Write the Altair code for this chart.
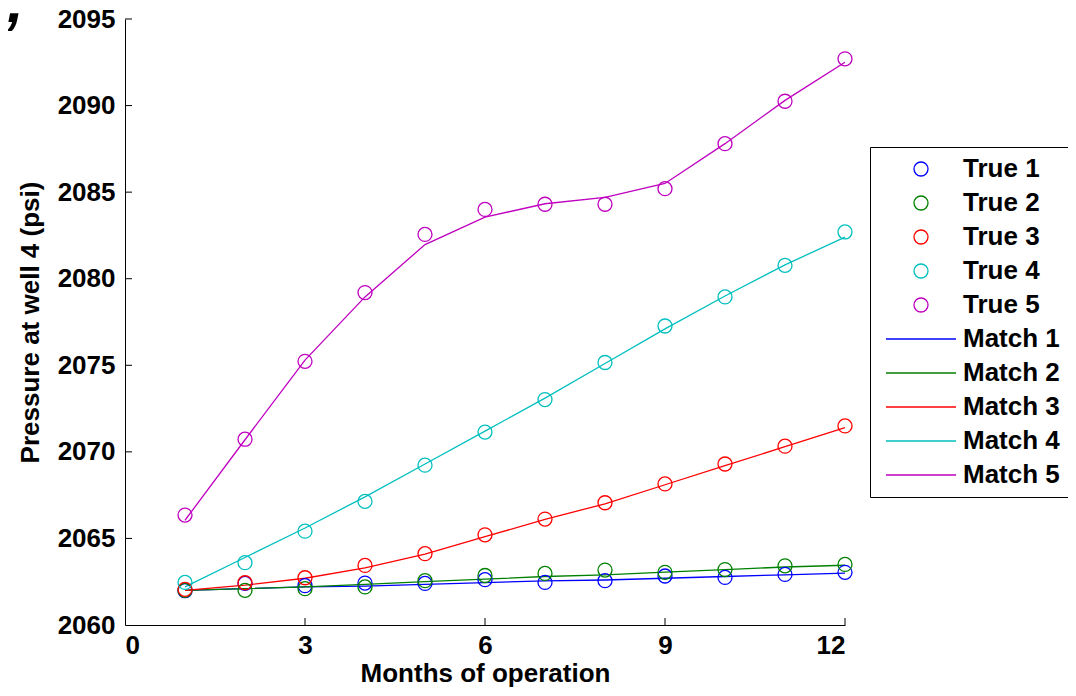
import altair as alt
import pandas as pd

months = list(range(1, 13))

true_1 = [2061.98, 2062.40, 2062.27, 2062.42, 2062.40, 2062.62, 2062.46, 2062.56, 2062.83, 2062.75, 2062.92, 2063.04]
true_2 = [2062.00, 2062.00, 2062.10, 2062.20, 2062.56, 2062.86, 2062.98, 2063.17, 2063.04, 2063.20, 2063.42, 2063.50]
true_3 = [2062.06, 2062.44, 2062.73, 2063.44, 2064.12, 2065.21, 2066.12, 2067.06, 2068.15, 2069.30, 2070.33, 2071.50]
true_4 = [2062.46, 2063.60, 2065.42, 2067.14, 2069.23, 2071.14, 2073.02, 2075.16, 2077.27, 2078.95, 2080.77, 2082.70]
true_5 = [2066.35, 2070.73, 2075.23, 2079.20, 2082.56, 2084.00, 2084.30, 2084.30, 2085.20, 2087.80, 2090.25, 2092.70]

match_1 = [2062.00, 2062.10, 2062.20, 2062.25, 2062.35, 2062.45, 2062.55, 2062.60, 2062.70, 2062.80, 2062.90, 2063.00]
match_2 = [2062.00, 2062.10, 2062.20, 2062.35, 2062.50, 2062.65, 2062.80, 2062.90, 2063.05, 2063.20, 2063.35, 2063.45]
match_3 = [2062.00, 2062.30, 2062.70, 2063.30, 2064.10, 2065.10, 2066.10, 2067.00, 2068.10, 2069.20, 2070.30, 2071.40]
match_4 = [2062.20, 2063.90, 2065.60, 2067.40, 2069.30, 2071.20, 2073.10, 2075.10, 2077.10, 2079.00, 2080.80, 2082.40]
match_5 = [2066.05, 2070.70, 2075.30, 2078.95, 2081.97, 2083.56, 2084.33, 2084.70, 2085.50, 2087.80, 2090.30, 2092.50]

true_labels = ["True 1", "True 2", "True 3", "True 4", "True 5"]
match_labels = ["Match 1", "Match 2", "Match 3", "Match 4", "Match 5"]
series_colors = ["#0000ff", "#008000", "#ff0000", "#00bfbf", "#bf00bf"]

x_ticks = [0, 3, 6, 9, 12]
y_ticks = [2060, 2065, 2070, 2075, 2080, 2085, 2090, 2095]

rows = []
for lab, vals in zip(true_labels, [true_1, true_2, true_3, true_4, true_5]):
    for m, v in zip(months, vals):
        rows.append({"month": m, "pressure": v, "label": lab, "kind": "true"})
for lab, vals in zip(match_labels, [match_1, match_2, match_3, match_4, match_5]):
    for m, v in zip(months, vals):
        rows.append({"month": m, "pressure": v, "label": lab, "kind": "match"})
df = pd.DataFrame(rows)

FONT = "Liberation Sans"
domain = true_labels + match_labels
color_scale = alt.Scale(domain=domain, range=series_colors + series_colors)
shape_scale = alt.Scale(domain=domain, range=["circle"] * 5 + ["M-5,0H5"] * 5)

legend = alt.Legend(
    title=None, orient="none", legendX=745, legendY=128,
    labelFont=FONT, labelFontSize=26, labelFontWeight="bold", labelColor="black",
    padding=9, rowPadding=8, strokeColor="black", fillColor="white",
    symbolOffset=29, labelOffset=29, symbolStrokeWidth=1.3, symbolSize=196,
    labelLimit=300,
)

x_enc = alt.X("month:Q", title="Months of operation",
              scale=alt.Scale(domain=[0, 12], nice=False, zero=False),
              axis=alt.Axis(values=x_ticks, tickSize=0, labelPadding=7, titlePadding=2,
                            grid=False, domainColor="black", format="d"))
y_enc = alt.Y("pressure:Q", title="Pressure at well 4 (psi)",
              scale=alt.Scale(domain=[2060, 2095], nice=False, zero=False),
              axis=alt.Axis(values=y_ticks, tickSize=0, labelPadding=10, titlePadding=14,
                            grid=False, domainColor="black", format="d"))

lines = alt.Chart(df).transform_filter(alt.datum.kind == "match").mark_line(strokeWidth=1.3).encode(
    x=x_enc, y=y_enc,
    color=alt.Color("label:N", scale=color_scale, legend=legend),
)

points = alt.Chart(df).transform_filter(alt.datum.kind == "true").mark_point(
    filled=False, size=196, strokeWidth=1.3, opacity=1
).encode(
    x=x_enc, y=y_enc,
    color=alt.Color("label:N", scale=color_scale, legend=legend),
    shape=alt.Shape("label:N", scale=shape_scale, legend=legend),
)

xt = alt.Chart(pd.DataFrame({"month": x_ticks[1:]})).mark_rule(color="black", strokeWidth=1).encode(
    x=x_enc, y=alt.value(606), y2=alt.value(599))
yt = alt.Chart(pd.DataFrame({"pressure": y_ticks[1:]})).mark_rule(color="black", strokeWidth=1).encode(
    y=y_enc, x=alt.value(0), x2=alt.value(7))

mark_txt = alt.Chart(pd.DataFrame({"t": [","]})).mark_text(
    font=FONT, fontSize=60, fontWeight="bold", fontStyle="italic", align="left",
    baseline="alphabetic", color="black"
).encode(x=alt.value(-118), y=alt.value(3), text="t:N")

chart = alt.layer(lines, points, xt, yt, mark_txt).properties(
    width=720, height=606,
    autosize=alt.AutoSizeParams(type="none"),
    padding={"left": 117, "top": 11, "right": 223, "bottom": 63},
).configure_view(stroke=None).configure_axis(
    labelFont=FONT, labelFontSize=26, labelFontWeight="bold", labelColor="black",
    titleFont=FONT, titleFontSize=26, titleFontWeight="bold", titleColor="black",
    domainWidth=1,
)

chart.save("out.html", embed_options={"renderer": "svg", "actions": False})
